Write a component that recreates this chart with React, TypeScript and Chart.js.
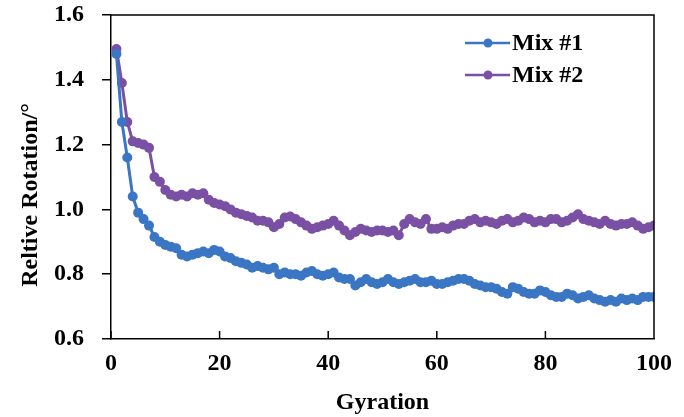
import React, { useEffect, useRef } from "react";
import { Chart, registerables } from "chart.js";

Chart.register(...registerables);

// Gyration count 1..100
const gyration: number[] = [
  1, 2, 3, 4, 5, 6, 7, 8, 9, 10, 11, 12, 13, 14, 15, 16, 17, 18, 19, 20,
  21, 22, 23, 24, 25, 26, 27, 28, 29, 30, 31, 32, 33, 34, 35, 36, 37, 38, 39, 40,
  41, 42, 43, 44, 45, 46, 47, 48, 49, 50, 51, 52, 53, 54, 55, 56, 57, 58, 59, 60,
  61, 62, 63, 64, 65, 66, 67, 68, 69, 70, 71, 72, 73, 74, 75, 76, 77, 78, 79, 80,
  81, 82, 83, 84, 85, 86, 87, 88, 89, 90, 91, 92, 93, 94, 95, 96, 97, 98, 99, 100,
];

const mix1: number[] = [
  1.48, 1.27, 1.16, 1.04, 0.99, 0.97, 0.95, 0.915, 0.9, 0.89,
  0.885, 0.88, 0.86, 0.855, 0.86, 0.865, 0.87, 0.865, 0.875, 0.87,
  0.855, 0.85, 0.84, 0.835, 0.83, 0.82, 0.825, 0.82, 0.815, 0.82,
  0.8, 0.805, 0.8, 0.8, 0.795, 0.805, 0.81, 0.8, 0.795, 0.8,
  0.805, 0.79, 0.785, 0.785, 0.765, 0.775, 0.785, 0.775, 0.77, 0.775,
  0.785, 0.775, 0.77, 0.775, 0.78, 0.785, 0.775, 0.775, 0.78, 0.77,
  0.77, 0.775, 0.78, 0.785, 0.785, 0.78, 0.77, 0.765, 0.76, 0.76,
  0.755, 0.745, 0.74, 0.76, 0.755, 0.745, 0.74, 0.74, 0.75, 0.745,
  0.735, 0.73, 0.73, 0.74, 0.735, 0.725, 0.73, 0.735, 0.725, 0.72,
  0.715, 0.72, 0.715, 0.725, 0.72, 0.725, 0.72, 0.73, 0.73, 0.73,
];

const mix2: number[] = [
  1.495, 1.39, 1.27, 1.21, 1.205, 1.2, 1.19, 1.1, 1.085, 1.06,
  1.045, 1.04, 1.045, 1.04, 1.05, 1.045, 1.05, 1.03, 1.02, 1.015,
  1.01, 1.0, 0.99, 0.985, 0.98, 0.975, 0.965, 0.965, 0.96, 0.945,
  0.955, 0.975, 0.978, 0.97, 0.96, 0.95, 0.94, 0.945, 0.95, 0.955,
  0.965, 0.95, 0.935, 0.92, 0.93, 0.94, 0.935, 0.93, 0.935, 0.935,
  0.93, 0.935, 0.92, 0.955, 0.97, 0.96, 0.955, 0.97, 0.94, 0.94,
  0.945, 0.94, 0.95, 0.955, 0.955, 0.965, 0.97, 0.96, 0.965, 0.96,
  0.955, 0.965, 0.97, 0.96, 0.965, 0.975, 0.97, 0.96, 0.965, 0.96,
  0.97, 0.97, 0.96, 0.965, 0.975, 0.985, 0.97, 0.965, 0.96, 0.955,
  0.965, 0.955, 0.95, 0.955, 0.955, 0.96, 0.95, 0.94, 0.945, 0.95,
];

const seriesNames = ["Mix #1", "Mix #2"];
const seriesColors = ["#3B76C4", "#7A50A4"];
const xTickValues = [0, 20, 40, 60, 80, 100];
const xTitle = "Gyration";
const yTitle = "Reltive Rotation/°";

const FONT_FAMILY = "'Liberation Serif', 'Times New Roman', serif";

const framePlugin = {
  id: "frameAndLegend",
  afterDraw(chart: any) {
    const { ctx, chartArea, scales } = chart;
    const { left, right, top, bottom } = chartArea;
    ctx.save();
    ctx.strokeStyle = "#000";
    ctx.lineWidth = 1.5;
    ctx.beginPath();
    // top and right sides of the frame
    ctx.moveTo(left, top);
    ctx.lineTo(right, top);
    ctx.lineTo(right, bottom);
    // inward tick marks on the x axis
    for (const v of xTickValues) {
      const px = scales.x.getPixelForValue(v);
      ctx.moveTo(px, bottom);
      ctx.lineTo(px, bottom - 8);
    }
    ctx.stroke();

    // y axis title
    ctx.fillStyle = "#000";
    ctx.font = `bold 24px ${FONT_FAMILY}`;
    ctx.textAlign = "center";
    ctx.textBaseline = "middle";
    ctx.translate(31, (top + bottom) / 2 + 18);
    ctx.rotate(-Math.PI / 2);
    ctx.fillText(yTitle, 0, 0);
    ctx.restore();

    // legend
    ctx.save();
    ctx.font = `bold 24px ${FONT_FAMILY}`;
    ctx.textAlign = "left";
    ctx.textBaseline = "middle";
    seriesNames.forEach((name, i) => {
      const y = top + 28 + i * 32;
      const x0 = right - 189;
      ctx.strokeStyle = seriesColors[i];
      ctx.lineWidth = 2.5;
      ctx.beginPath();
      ctx.moveTo(x0, y);
      ctx.lineTo(x0 + 45, y);
      ctx.stroke();
      ctx.fillStyle = seriesColors[i];
      ctx.beginPath();
      ctx.arc(x0 + 23, y, 4.5, 0, Math.PI * 2);
      ctx.fill();
      ctx.fillStyle = "#000";
      ctx.fillText(name, x0 + 47, y + 1);
    });
    ctx.restore();
  },
};

export default function App() {
  const canvasRef = useRef<HTMLCanvasElement | null>(null);

  useEffect(() => {
    if (!canvasRef.current) return;
    const series = [mix1, mix2];
    const chart = new Chart(canvasRef.current, {
      type: "line",
      data: {
        datasets: series.map((vals, i) => ({
          label: seriesNames[i],
          data: vals.map((v, j) => ({ x: gyration[j], y: v })),
          borderColor: seriesColors[i],
          backgroundColor: seriesColors[i],
          borderWidth: 3,
          pointRadius: 5,
          pointBorderWidth: 0,
          pointBackgroundColor: seriesColors[i],
          tension: 0,
          fill: false,
        })),
      },
      options: {
        animation: false,
        responsive: false,
        maintainAspectRatio: false,
        layout: { padding: { top: 15, right: 30, left: 0, bottom: 0 } },
        plugins: {
          legend: { display: false },
          tooltip: { enabled: false },
        },
        scales: {
          x: {
            type: "linear",
            min: 0,
            max: 100,
            afterFit: (s: any) => {
              s.height = 78;
              s.paddingLeft = 0;
              s.paddingRight = 0;
            },
            ticks: {
              stepSize: 20,
              padding: 10,
              color: "#000",
              font: { family: FONT_FAMILY, size: 24, weight: "bold" },
            },
            grid: { display: false, drawTicks: false },
            border: { display: true, color: "#000", width: 1.5 },
            title: {
              display: true,
              text: xTitle,
              color: "#000",
              padding: { top: 0, bottom: 0 },
              font: { family: FONT_FAMILY, size: 24, weight: "bold" },
            },
          },
          y: {
            type: "linear",
            min: 0.6,
            max: 1.6,
            afterFit: (s: any) => {
              s.width = 111;
              s.paddingTop = 0;
              s.paddingBottom = 0;
            },
            ticks: {
              stepSize: 0.2,
              padding: 18,
              color: "#000",
              callback: (v: any) => Number(v).toFixed(1),
              font: { family: FONT_FAMILY, size: 24, weight: "bold" },
            },
            grid: {
              display: true,
              drawOnChartArea: false,
              drawTicks: true,
              tickLength: 9,
              color: "#000",
              lineWidth: 1.5,
            },
            border: { display: true, color: "#000", width: 1.5 },
          },
        },
      },
      plugins: [framePlugin],
    });
    return () => chart.destroy();
  }, []);

  return (
    <div style={{ position: "fixed", left: 0, top: 0, width: 684, height: 417, background: "#fff" }}>
      <canvas ref={canvasRef} width={684} height={417} style={{ display: "block" }} />
    </div>
  );
}
